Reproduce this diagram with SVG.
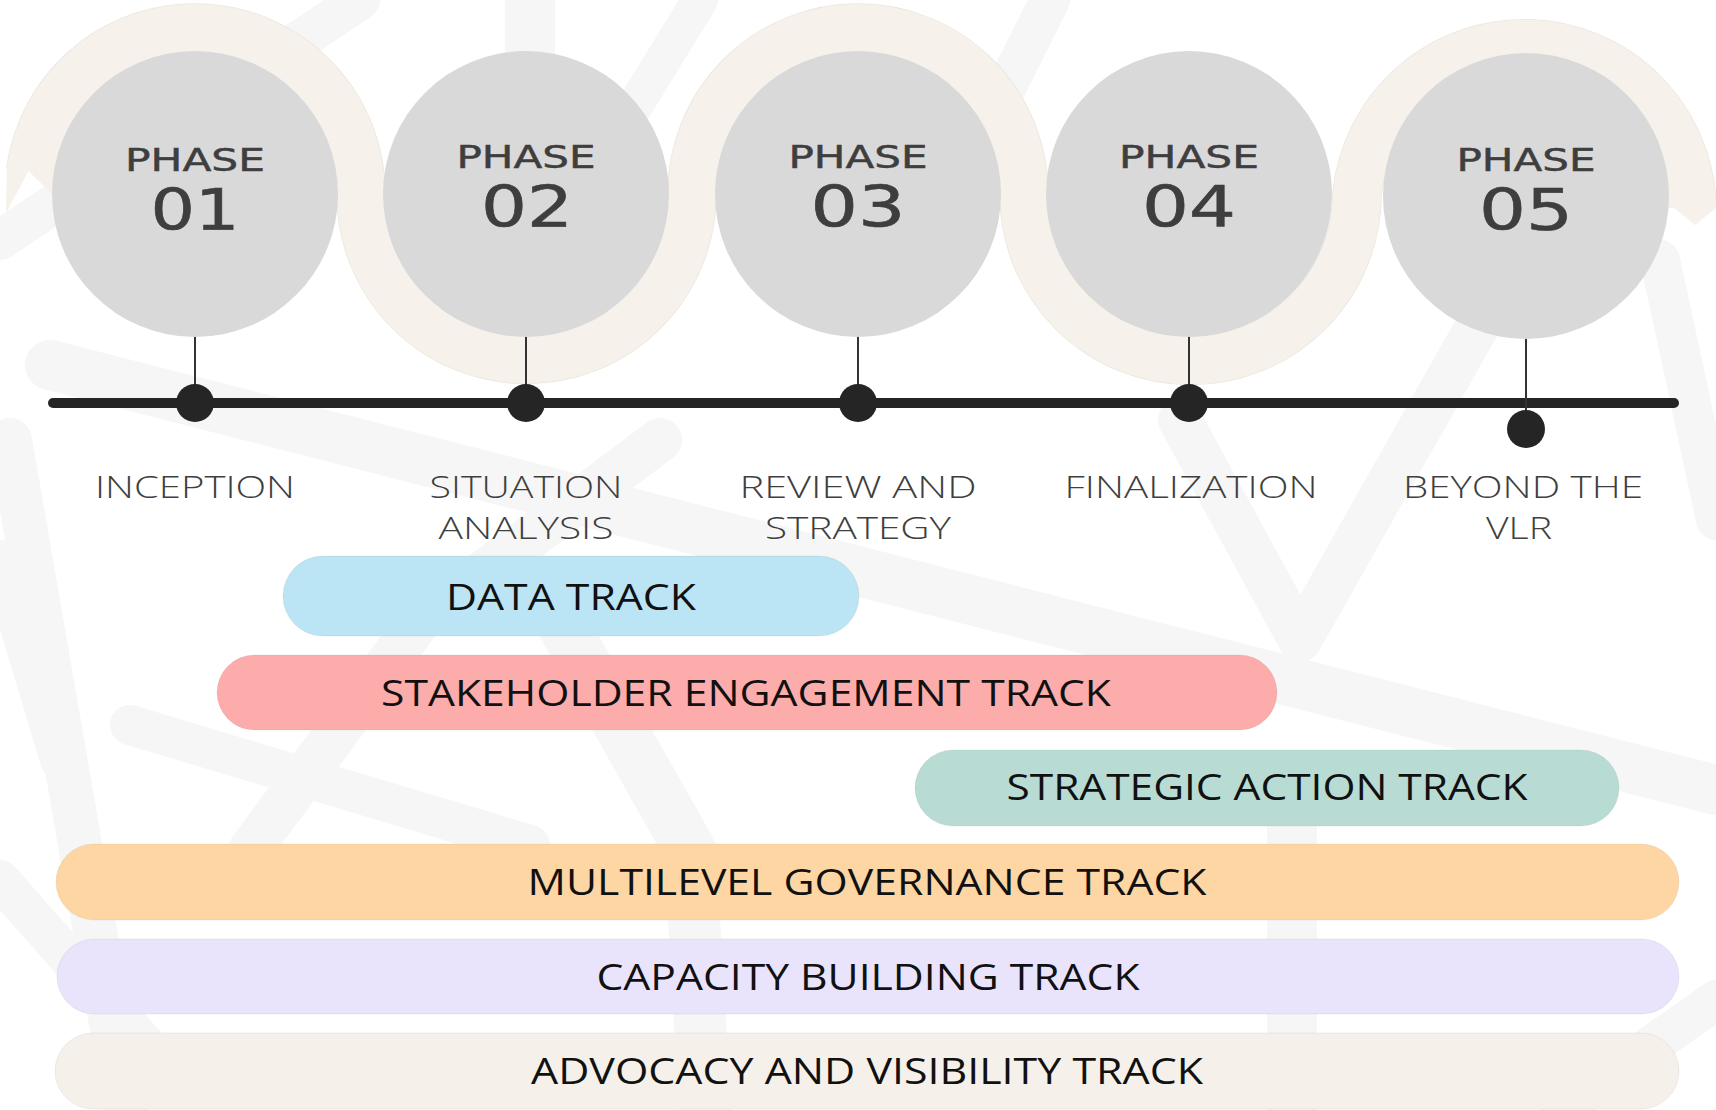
<svg xmlns="http://www.w3.org/2000/svg" width="1716" height="1110" viewBox="0 0 1716 1110">
  <style>
    .bg { fill: none; stroke: #f6f6f6; stroke-linecap: round; stroke-linejoin: round; }
    .wave-edge { fill: none; stroke: #ebe6dc; stroke-width: 49.5; }
    .wave { fill: none; stroke: #f6f2eb; stroke-width: 48; }
    .wave-tip { fill: #f6f2eb; }
    .disc { fill: #d9d9d9; }
    .phase { font-family: "DejaVu Sans", "Liberation Sans", sans-serif; fill: #3e3e3e; stroke: #3e3e3e; text-anchor: middle; }
    .phase-word { font-size: 32px; stroke-width: 0.5; }
    .phase-num { font-size: 57px; stroke-width: 0.6; }
    .stem { stroke: #333333; stroke-width: 2; }
    .axis { stroke: #252525; stroke-width: 10; stroke-linecap: round; }
    .dot { fill: #252525; }
    .label { font-family: "Open Sans", "Liberation Sans", sans-serif; font-size: 32px; font-weight: 300; fill: #3f3f3f; text-anchor: middle; }
    .pill { stroke: rgba(0,0,0,0.06); stroke-width: 1; }
    .track { font-family: "Open Sans", "Liberation Sans", sans-serif; font-size: 37px; font-weight: 500; fill: #111111; text-anchor: middle; }
  </style>

  <rect width="1716" height="1110" fill="#ffffff"/>

  <!-- faint street-map texture -->
  <g id="texture">
    <path class="bg" stroke-width="44" d="M10 440 L126 1110"/>
    <path class="bg" stroke-width="50" d="M50 365 L1716 790"/>
    <path class="bg" stroke-width="40" d="M360 0 L0 240"/>
    <path class="bg" stroke-width="52" d="M560 620 L690 850 L705 1110"/>
    <path class="bg" stroke-width="44" d="M250 850 L420 620 L660 440"/>
    <path class="bg" stroke-width="40" d="M130 725 L530 845"/>
    <path class="bg" stroke-width="44" d="M1180 420 L1300 640 L1560 180"/>
    <path class="bg" stroke-width="50" d="M1292 830 L1292 1110"/>
    <path class="bg" stroke-width="50" d="M530 0 L530 95"/>
    <path class="bg" stroke-width="40" d="M1660 260 L1716 520"/>
    <path class="bg" stroke-width="40" d="M0 560 L60 760"/>
    <path class="bg" stroke-width="36" d="M700 0 L620 130"/>
    <path class="bg" stroke-width="40" d="M1050 0 L990 120"/>
    <path class="bg" stroke-width="40" d="M0 880 L150 1050"/>
    <path class="bg" stroke-width="40" d="M1716 1000 L1560 1110"/>
  </g>

  <!-- ribbon weaving over and under the phase discs -->
  <g id="ribbon">
    <path class="wave-edge" d="M30.6 171 A166 166 0 0 1 361 194 A165.5 165.5 0 0 0 692 194 A166 166 0 0 1 1024 194 A166.5 166.5 0 0 0 1357 194 A168 168 0 0 1 1692 207"/>
    <path class="wave" d="M30.6 171 A166 166 0 0 1 361 194 A165.5 165.5 0 0 0 692 194 A166 166 0 0 1 1024 194 A166.5 166.5 0 0 0 1357 194 A168 168 0 0 1 1692 207"/>
    <polygon class="wave-tip" points="6.8,167.7 6,213 28.5,171 53,195 54.4,174.3"/>
    <polygon class="wave-tip" points="1668,203 1695,225 1716,208 1716,200"/>
  </g>

  <!-- connectors: timeline axis and stems -->
  <g id="connectors">
    <line class="axis" x1="53" y1="403" x2="1674" y2="403"/>
    <line class="stem" x1="195" y1="336" x2="195" y2="403"/>
    <line class="stem" x1="526" y1="336" x2="526" y2="403"/>
    <line class="stem" x1="858" y1="336" x2="858" y2="403"/>
    <line class="stem" x1="1189" y1="336" x2="1189" y2="403"/>
    <line class="stem" x1="1526" y1="338" x2="1526" y2="420"/>
  </g>

  <g id="phase-01">
    <circle class="disc" cx="195" cy="194" r="143"/>
    <text class="phase phase-word" x="195" y="171" textLength="140" lengthAdjust="spacingAndGlyphs">PHASE</text>
    <text class="phase phase-num" x="195" y="230" textLength="89" lengthAdjust="spacingAndGlyphs">01</text>
    <circle class="dot" cx="195" cy="403" r="19"/>
    <text class="label" x="195" y="498" textLength="200" lengthAdjust="spacingAndGlyphs">INCEPTION</text>
  </g>

  <g id="phase-02">
    <circle class="disc" cx="526" cy="194" r="143"/>
    <text class="phase phase-word" x="526" y="168" textLength="139" lengthAdjust="spacingAndGlyphs">PHASE</text>
    <text class="phase phase-num" x="527" y="227" textLength="92" lengthAdjust="spacingAndGlyphs">02</text>
    <circle class="dot" cx="526" cy="403" r="19"/>
    <text class="label" x="526" y="498" textLength="193" lengthAdjust="spacingAndGlyphs">SITUATION</text>
    <text class="label" x="526" y="539" textLength="175" lengthAdjust="spacingAndGlyphs">ANALYSIS</text>
  </g>

  <g id="phase-03">
    <circle class="disc" cx="858" cy="194" r="143"/>
    <text class="phase phase-word" x="858" y="168" textLength="139" lengthAdjust="spacingAndGlyphs">PHASE</text>
    <text class="phase phase-num" x="858" y="227" textLength="95" lengthAdjust="spacingAndGlyphs">03</text>
    <circle class="dot" cx="858" cy="403" r="19"/>
    <text class="label" x="858" y="498" textLength="237" lengthAdjust="spacingAndGlyphs">REVIEW AND</text>
    <text class="label" x="858" y="539" textLength="186" lengthAdjust="spacingAndGlyphs">STRATEGY</text>
  </g>

  <g id="phase-04">
    <circle class="disc" cx="1189" cy="194" r="143"/>
    <text class="phase phase-word" x="1189" y="168" textLength="140" lengthAdjust="spacingAndGlyphs">PHASE</text>
    <text class="phase phase-num" x="1189" y="227" textLength="94" lengthAdjust="spacingAndGlyphs">04</text>
    <circle class="dot" cx="1189" cy="403" r="19"/>
    <text class="label" x="1191" y="498" textLength="253" lengthAdjust="spacingAndGlyphs">FINALIZATION</text>
  </g>

  <g id="phase-05">
    <circle class="disc" cx="1526" cy="196" r="143"/>
    <text class="phase phase-word" x="1526" y="171" textLength="139" lengthAdjust="spacingAndGlyphs">PHASE</text>
    <text class="phase phase-num" x="1526" y="230" textLength="94" lengthAdjust="spacingAndGlyphs">05</text>
    <circle class="dot" cx="1526" cy="429" r="19"/>
    <text class="label" x="1523" y="498" textLength="240" lengthAdjust="spacingAndGlyphs">BEYOND THE</text>
    <text class="label" x="1519" y="539" textLength="66" lengthAdjust="spacingAndGlyphs">VLR</text>
  </g>

  <g id="data-track">
    <rect class="pill" x="283" y="556" width="576" height="80" rx="40" fill="#bbe4f4"/>
    <text class="track" x="571" y="610" textLength="250" lengthAdjust="spacingAndGlyphs">DATA TRACK</text>
  </g>

  <g id="stakeholder-track">
    <rect class="pill" x="217" y="655" width="1060" height="75" rx="37.5" fill="#fdacac"/>
    <text class="track" x="746" y="706" textLength="730" lengthAdjust="spacingAndGlyphs">STAKEHOLDER ENGAGEMENT TRACK</text>
  </g>

  <g id="strategic-track">
    <rect class="pill" x="915" y="750" width="704" height="76" rx="38" fill="#b8dcd4"/>
    <text class="track" x="1267" y="800" textLength="521" lengthAdjust="spacingAndGlyphs">STRATEGIC ACTION TRACK</text>
  </g>

  <g id="governance-track">
    <rect class="pill" x="56" y="844" width="1623" height="76" rx="38" fill="#fdd6a4"/>
    <text class="track" x="867" y="895" textLength="679" lengthAdjust="spacingAndGlyphs">MULTILEVEL GOVERNANCE TRACK</text>
  </g>

  <g id="capacity-track">
    <rect class="pill" x="57" y="939" width="1622" height="75" rx="37.5" fill="#e9e4fc"/>
    <text class="track" x="868" y="990" textLength="543" lengthAdjust="spacingAndGlyphs">CAPACITY BUILDING TRACK</text>
  </g>

  <g id="advocacy-track">
    <rect class="pill" x="55" y="1033" width="1624" height="76" rx="38" fill="#f5f1ea"/>
    <text class="track" x="867" y="1084" textLength="672" lengthAdjust="spacingAndGlyphs">ADVOCACY AND VISIBILITY TRACK</text>
  </g>
</svg>
